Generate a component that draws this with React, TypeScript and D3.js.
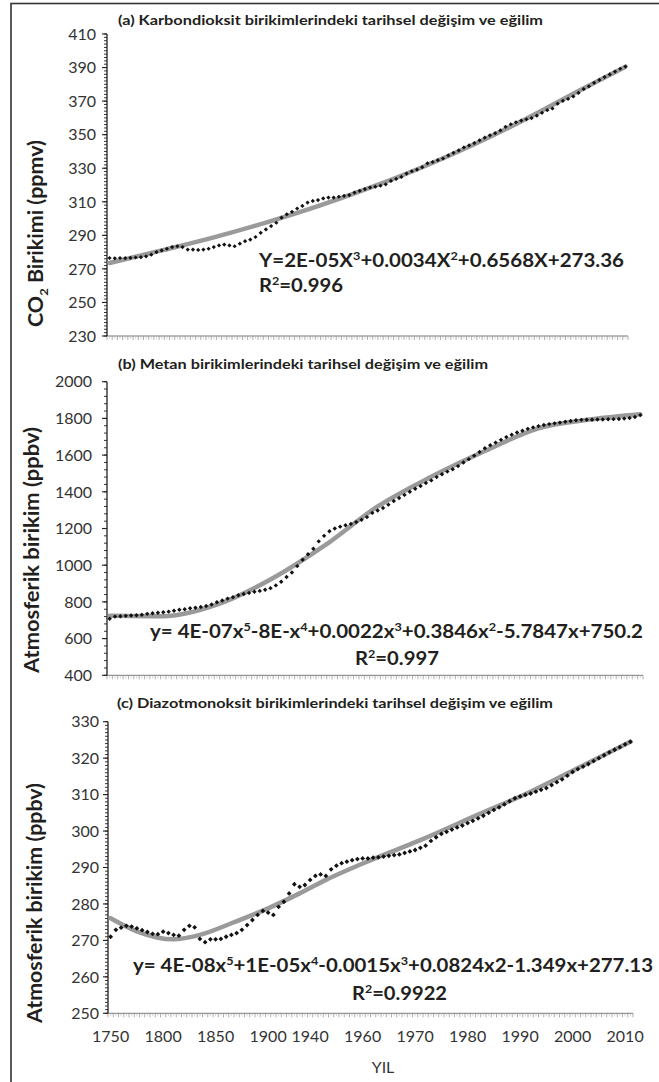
import React from "react";
import * as d3 from "d3";

// ---------- categories (irregular sampling, category axis) ----------
const YEARS = [
  1750, 1755, 1760, 1765, 1770, 1775, 1780, 1785, 1790, 1795,
  1800, 1805, 1810, 1815, 1820, 1825, 1830, 1835, 1840, 1845,
  1850, 1855, 1860, 1865, 1870, 1875, 1880, 1885, 1890, 1895,
  1900, 1905, 1910, 1915, 1920, 1925, 1930, 1935, 1940, 1942,
  1944, 1946, 1948, 1950, 1952, 1954, 1956, 1958, 1960,
  1961, 1962, 1963, 1964, 1965, 1966, 1967, 1968, 1969, 1970,
  1971, 1972, 1973, 1974, 1975, 1976, 1977, 1978, 1979, 1980,
  1981, 1982, 1983, 1984, 1985, 1986, 1987, 1988, 1989, 1990,
  1991, 1992, 1993, 1994, 1995, 1996, 1997, 1998, 1999, 2000,
  2001, 2002, 2003, 2004, 2005, 2006, 2007, 2008, 2009, 2010, 2011,
];
const XTICK_YEARS = [1750, 1800, 1850, 1900, 1940, 1960, 1970, 1980, 1990, 2000, 2010];

// ---------- (a) CO2 ppmv ----------
const CO2 = [
  276.5, 276.3, 276.5, 276.4, 276.6, 276.8, 277.0, 277.5, 278.5, 280.0,
  281.0, 282.0, 283.0, 283.5, 283.0, 281.5, 281.5, 281.3, 281.5, 282.0,
  283.0, 284.0, 284.5, 284.0, 283.5, 285.0, 286.5, 287.5, 289.0, 291.5,
  293.5, 295.5, 297.5, 300.5, 302.5, 304.0, 306.0, 307.5, 309.5, 310.5,
  311.0, 312.0, 312.5, 312.5, 313.0, 313.5, 314.0, 315.5, 316.5,
  317.6, 318.5, 319.0, 319.6, 320.4, 322.4, 323.6, 324.8, 326.8, 328.2,
  329.2, 330.6, 332.9, 333.7, 334.8, 335.8, 337.6, 339.2, 340.6, 342.4,
  343.6, 345.0, 346.6, 348.2, 349.6, 350.9, 352.5, 354.7, 356.2, 357.4,
  358.4, 359.2, 359.9, 361.3, 363.0, 364.6, 365.6, 368.5, 370.2, 371.3,
  372.8, 374.9, 377.2, 378.8, 380.9, 382.6, 384.3, 385.9, 387.6, 389.3, 390.6,
];
const CO2_TREND_IDX = [0, 10, 20, 30, 40, 50, 60, 70, 80, 90, 99];
const CO2_TREND = [273.5, 281.0, 288.8, 297.6, 307.4, 318.4, 330.6, 344.3, 359.5, 376.0, 390.5];
const CO2_TICKS = [230, 250, 270, 290, 310, 330, 350, 370, 390, 410];

// ---------- (b) CH4 ppbv ----------
const CH4 = [
  708, 720, 722, 724, 726, 727, 730, 735, 738, 741,
  744, 747, 752, 757, 760, 765, 768, 772, 778, 786,
  798, 808, 818, 826, 836, 843, 849, 855, 860, 866,
  875, 890, 910, 936, 960, 995, 1030, 1060, 1090, 1130,
  1160, 1185, 1200, 1210, 1218, 1225, 1235, 1248, 1262,
  1285, 1298, 1312, 1330, 1350, 1366, 1383, 1400, 1417, 1432,
  1448, 1462, 1480, 1496, 1510, 1523, 1540, 1560, 1578, 1597,
  1617, 1637, 1654, 1668, 1683, 1698, 1711, 1723, 1733, 1743,
  1751, 1758, 1764, 1769, 1773, 1777, 1782, 1786, 1790, 1792,
  1793, 1793, 1794, 1794, 1795, 1796, 1797, 1799, 1802, 1808, 1818,
];
const CH4_TREND_IDX = [0, 10, 20, 30, 40, 50, 60, 70, 80, 90, 99];
const CH4_TREND = [724, 722, 785, 922, 1105, 1320, 1482, 1622, 1746, 1795, 1822];
const CH4_TICKS = [400, 600, 800, 1000, 1200, 1400, 1600, 1800, 2000];

// ---------- (c) N2O ppbv ----------
const N2O = [
  271.0, 272.9, 273.5, 274.0, 273.8, 273.3, 272.8, 272.3, 271.8, 271.7,
  272.4, 272.0, 271.5, 271.3, 272.9, 274.0, 273.6, 270.4, 269.5, 270.3,
  270.3, 270.4, 271.0, 271.5, 272.0, 272.9, 274.2, 275.6, 277.0, 278.1,
  277.6, 277.0, 279.2, 280.6, 282.9, 285.4, 284.7, 285.2, 286.6, 287.7,
  288.1, 287.7, 289.5, 290.5, 291.2, 291.6, 292.0, 292.3, 292.5,
  292.5, 292.7, 292.8, 293.0, 293.2, 293.4, 293.6, 294.0, 294.4, 294.8,
  295.4, 296.0, 297.3, 298.3, 299.2, 299.8, 300.4, 301.0, 301.5, 302.2,
  302.8, 303.5, 304.2, 305.0, 305.8, 306.5, 307.3, 308.2, 309.0, 309.5,
  309.9, 310.3, 310.8, 311.3, 311.8, 312.6, 313.4, 314.2, 315.2, 316.2,
  317.0, 317.7, 318.4, 319.2, 320.0, 320.8, 321.6, 322.3, 323.0, 323.8, 324.5,
];
const N2O_TREND_IDX = [0, 5, 12, 17, 23, 30, 36, 41, 50, 59, 70, 80, 90, 99];
const N2O_TREND = [276.1, 272.5, 270.3, 271.5, 274.7, 278.8, 282.9, 286.6, 292.3, 297.5, 304.5, 310.8, 318.0, 324.5];
const N2O_TICKS = [250, 260, 270, 280, 290, 300, 310, 320, 330];

const FONT = "Lato, 'Open Sans', 'DejaVu Sans', sans-serif";
const INK = "#231f20";

type EqPart = { t: string; sup?: boolean };
function parseEq(s: string): EqPart[] {
  const out: EqPart[] = [];
  let buf = "";
  for (let i = 0; i < s.length; i++) {
    if (s[i] === "^") {
      if (buf) out.push({ t: buf });
      buf = "";
      out.push({ t: s[i + 1], sup: true });
      i++;
    } else buf += s[i];
  }
  if (buf) out.push({ t: buf });
  return out;
}

function RichText(props: {
  s: string; x: number; y: number; size: number; len?: number; anchor?: string; weight?: number | string;
}) {
  const { s, x, y, size, len, anchor, weight } = props;
  const parts = parseEq(s);
  const rise = size * 0.38;
  let shifted = false;
  return (
    <text
      x={x}
      y={y}
      fontSize={size}
      fontWeight={weight ?? 700}
      fill={INK}
      textAnchor={anchor ?? "start"}
      textLength={len}
      lengthAdjust={len ? "spacingAndGlyphs" : undefined}
    >
      {parts.map((p, i) => {
        let dy = 0;
        if (p.sup && !shifted) { dy = -rise; shifted = true; }
        else if (!p.sup && shifted) { dy = rise; shifted = false; }
        return (
          <tspan key={i} dy={dy || undefined} fontSize={p.sup ? size * 0.62 : undefined}>
            {p.t}
          </tspan>
        );
      })}
    </text>
  );
}

type PanelProps = {
  values: number[];
  trendIdx: number[];
  trend: number[];
  ticks: number[];
  minorStep: number;
  x0: number; x1: number;
  yTop: number; yBot: number;
  dom: [number, number];
  labelRight: number;
  dotR: number;
};

function diamond(r: number) {
  return `M0,${-r}L${r},0L0,${r}L${-r},0Z`;
}

function Panel(p: PanelProps) {
  const x = d3.scaleBand<number>().domain(YEARS).range([p.x0, p.x1]).paddingInner(0).paddingOuter(0);
  const bw = x.bandwidth();
  const xc = (yr: number) => (x(yr) as number) + bw / 2;
  const y = d3.scaleLinear().domain(p.dom).range([p.yBot, p.yTop]);
  const minors = d3.range(p.dom[0], p.dom[1] + 1e-9, p.minorStep);
  const line = d3
    .line<number>()
    .x((_, k) => xc(YEARS[p.trendIdx[k]]))
    .y((v) => y(v))
    .curve(d3.curveMonotoneX);
  const base = y(p.dom[0]);
  const bounds = YEARS.map((yr) => x(yr) as number).concat([p.x1]);
  return (
    <g>
      {/* x axis */}
      <line x1={p.x0} x2={p.x1} y1={base} y2={base} stroke="#777" strokeWidth={1} />
      {bounds.map((bx, i) => (
        <line key={"xt" + i} x1={bx} x2={bx} y1={base} y2={base + 4} stroke="#999" strokeWidth={0.8} />
      ))}
      {bounds.slice(0, -1).map((bx, i) => (
        <line key={"xm" + i} x1={bx + bw / 2} x2={bx + bw / 2} y1={base} y2={base + 3} stroke="#bbb" strokeWidth={0.6} />
      ))}
      {/* y axis */}
      <line x1={p.x0} x2={p.x0} y1={p.yTop} y2={base} stroke={INK} strokeWidth={1.3} />
      {minors.map((v, i) => (
        <line key={"ym" + i} x1={p.x0 - 3} x2={p.x0} y1={y(v)} y2={y(v)} stroke={INK} strokeWidth={0.9} />
      ))}
      {p.ticks.map((v) => (
        <g key={"yt" + v}>
          <line x1={p.x0 - 5} x2={p.x0} y1={y(v)} y2={y(v)} stroke={INK} strokeWidth={1.1} />
          <text x={p.labelRight} y={y(v)} dy="0.36em" textAnchor="end" fontSize={16} fill="#333">
            {v}
          </text>
        </g>
      ))}
      {/* trend */}
      <path d={line(p.trend) || ""} fill="none" stroke="#9a9a9a" strokeWidth={4.5} strokeLinecap="round" />
      {/* data */}
      {p.values.map((v, i) => (
        <path key={"d" + i} d={diamond(p.dotR)} transform={`translate(${xc(YEARS[i])},${y(v)})`} fill="#111" />
      ))}
    </g>
  );
}

export default function App() {
  const W = 659;
  const H = 1082;
  const xC = d3.scaleBand<number>().domain(YEARS).range([108, 633]);
  const bwC = xC.bandwidth();
  return (
    <svg
      width={W}
      height={H}
      style={{ position: "absolute", left: 0, top: 0, display: "block", background: "#fff" }}
      fontFamily={FONT}
    >
      <rect x={11} y={3.5} width={700} height={1200} fill="none" stroke="#333" strokeWidth={1.6} />

      {/* (a) */}
      <text x={118} y={25} fontSize={13} fontWeight={700} fill={INK} textLength={425} lengthAdjust="spacingAndGlyphs">
        (a) Karbondioksit birikimlerindeki tarihsel değişim ve eğilim
      </text>
      <Panel values={CO2} trendIdx={CO2_TREND_IDX} trend={CO2_TREND} ticks={CO2_TICKS} minorStep={2}
        x0={107} x1={628} yTop={34} yBot={336} dom={[230, 410]} labelRight={96} dotR={2.1} />
      <g transform="translate(43,233.5) rotate(-90)">
        <text textAnchor="middle" fontSize={20} fontWeight={700} fill={INK} textLength={187} lengthAdjust="spacingAndGlyphs">
          CO<tspan dy={5} fontSize={12}>2</tspan><tspan dy={-5}> Birikimi (ppmv)</tspan>
        </text>
      </g>
      <RichText s="Y=2E-05X^3+0.0034X^2+0.6568X+273.36" x={259} y={267} size={18} len={365} />
      <RichText s="R^2=0.996" x={259} y={292} size={18} len={84} />

      {/* (b) */}
      <text x={118} y={369} fontSize={13} fontWeight={700} fill={INK} textLength={370} lengthAdjust="spacingAndGlyphs">
        (b) Metan birikimlerindeki tarihsel değişim ve eğilim
      </text>
      <Panel values={CH4} trendIdx={CH4_TREND_IDX} trend={CH4_TREND} ticks={CH4_TICKS} minorStep={40}
        x0={107} x1={643} yTop={381.7} yBot={675.3} dom={[400, 2000]} labelRight={92} dotR={2.2} />
      <g transform="translate(39,550) rotate(-90)">
        <text textAnchor="middle" fontSize={20} fontWeight={700} fill={INK} textLength={246} lengthAdjust="spacingAndGlyphs">
          Atmosferik birikim (ppbv)
        </text>
      </g>
      <RichText s="y= 4E-07x^5-8E-x^4+0.0022x^3+0.3846x^2-5.7847x+750.2" x={150} y={638} size={18} len={493} />
      <RichText s="R^2=0.997" x={355} y={665} size={18} len={84} />

      {/* (c) */}
      <text x={117} y={708} fontSize={13} fontWeight={700} fill={INK} textLength={436} lengthAdjust="spacingAndGlyphs">
        (c) Diazotmonoksit birikimlerindeki tarihsel değişim ve eğilim
      </text>
      <Panel values={N2O} trendIdx={N2O_TREND_IDX} trend={N2O_TREND} ticks={N2O_TICKS} minorStep={1}
        x0={108} x1={633} yTop={721.7} yBot={1013.3} dom={[250, 330]} labelRight={99} dotR={2.4} />
      <g transform="translate(42,903) rotate(-90)">
        <text textAnchor="middle" fontSize={20} fontWeight={700} fill={INK} textLength={240} lengthAdjust="spacingAndGlyphs">
          Atmosferik birikim (ppbv)
        </text>
      </g>
      <RichText s="y= 4E-08x^5+1E-05x^4-0.0015x^3+0.0824x2-1.349x+277.13" x={133} y={972} size={18} len={520} />
      <RichText s="R^2=0.9922" x={352} y={1000} size={18} len={95} />

      {/* x tick labels */}
      {XTICK_YEARS.map((yr) => (
        <text key={yr} x={(xC(yr) as number) + bwC / 2} y={1042} textAnchor="middle" fontSize={16} fill="#333">
          {yr}
        </text>
      ))}
      <text x={383} y={1073} textAnchor="middle" fontSize={16} fill="#333">YIL</text>
    </svg>
  );
}
